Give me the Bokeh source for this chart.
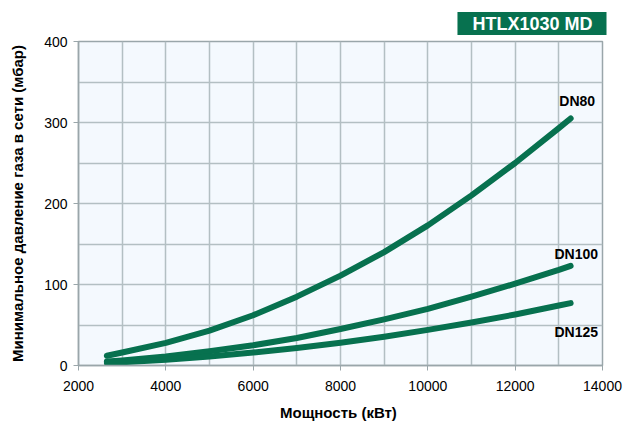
from bokeh.plotting import figure
from bokeh.models import FixedTicker, Range1d, Label, Title
from bokeh.embed import file_html
from bokeh.resources import INLINE

# Data
power = [2650, 3000, 4000, 5000, 6000, 7000, 8000, 9000, 10000, 11000, 12000, 13000, 13270]
dn80 = [12, 16, 28, 43, 62, 85, 111, 140, 173, 210, 250, 293, 305]
dn100 = [5, 6.3, 11, 17.5, 25, 34, 45, 57, 70, 85, 101, 118, 123]
dn125 = [3, 4, 7, 11, 16, 21.5, 28, 35.5, 44, 53, 63, 74, 77]
x_ticks = [2000, 4000, 6000, 8000, 10000, 12000, 14000]
y_ticks = [0, 100, 200, 300, 400]
x_grid = list(range(2000, 14001, 1000))
y_grid = list(range(0, 401, 50))

GREEN = "#07714f"
FONT = "Liberation Sans"

p = figure(width=623, height=423, output_backend="svg", toolbar_location=None,
           x_range=Range1d(2000, 14000), y_range=Range1d(0, 400),
           min_border_left=78, min_border_right=21, min_border_top=41, min_border_bottom=58)
p.background_fill_color = "#f4f9fe"
p.border_fill_color = "white"
p.outline_line_color = "#9aa6aa"
p.outline_line_width = 1.5

p.title = Title(text="HTLX1030 MD", align="right", text_font=FONT, text_font_style="bold",
                text_font_size="18px", text_color="white", background_fill_color=GREEN,
                padding=dict(left=15, right=14, top=2, bottom=1), offset=-4, standoff=13)

p.xgrid.ticker = FixedTicker(ticks=x_grid)
p.ygrid.ticker = FixedTicker(ticks=y_grid)
for g in (p.xgrid, p.ygrid):
    g.grid_line_color = "#b3bfc3"
    g.grid_line_width = 1.5

p.xaxis.ticker = FixedTicker(ticks=x_ticks)
p.yaxis.ticker = FixedTicker(ticks=y_ticks)
for ax in (p.xaxis, p.yaxis):
    ax.axis_line_color = "#9aa6aa"
    ax.axis_line_width = 1.5
    ax.major_tick_line_color = "#9aa6aa"
    ax.major_tick_out = 5
    ax.major_tick_in = 0
    ax.minor_tick_line_color = None
    ax.major_label_text_font = FONT
    ax.major_label_text_font_size = "14px"
    ax.major_label_text_color = "black"
    ax.axis_label_text_font = FONT
    ax.axis_label_text_font_style = "bold"
    ax.axis_label_text_font_size = "15px"
    ax.axis_label_text_color = "black"
p.xaxis.major_label_standoff = 10
p.yaxis.major_label_standoff = 6
p.xaxis.axis_label = "Мощность  (кВт)"
p.yaxis.axis_label = "Минимальное давление газа в сети (мбар)"
p.xaxis.axis_label_standoff = 10
p.yaxis.axis_label_standoff = 15

for ys in (dn80, dn100, dn125):
    p.line(power, ys, line_color=GREEN, line_width=6, line_cap="round", line_join="round")

for txt, x, y in (("DN80", 13420, 327), ("DN100", 13400, 138), ("DN125", 13400, 41)):
    p.add_layout(Label(x=x, y=y, text=txt, text_align="center", text_baseline="middle",
                       text_font=FONT, text_font_style="bold", text_font_size="14px",
                       text_color="black"))

open("out.html", "w").write(file_html(p, INLINE))
